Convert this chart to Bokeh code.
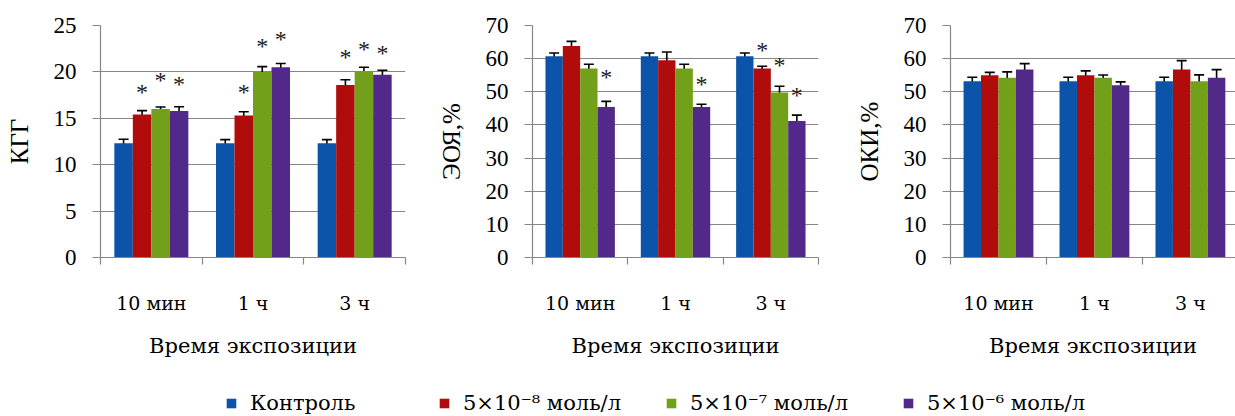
from bokeh.plotting import figure
from bokeh.models import (ColumnDataSource, Range1d, FixedTicker,
                          Whisker, TeeHead, Legend, LegendItem)
from bokeh.layouts import row, column
from bokeh.embed import file_html
from bokeh.resources import INLINE
from bokeh.core.properties import value

# ---------------- data ----------------
categories = ["10 мин", "1 ч", "3 ч"]
series = ["Контроль", "5×10⁻⁸ моль/л", "5×10⁻⁷ моль/л", "5×10⁻⁶ моль/л"]
colors = ["#0b54aa", "#b00c0c", "#72a01a", "#52298a"]

# KГГ
kgg_control = [12.3, 12.3, 12.3]
kgg_c8 = [15.4, 15.3, 18.6]
kgg_c7 = [16.0, 20.0, 20.1]
kgg_c6 = [15.8, 20.5, 19.7]
kgg_err_control = [0.45, 0.4, 0.4]
kgg_err_c8 = [0.43, 0.4, 0.55]
kgg_err_c7 = [0.22, 0.57, 0.4]
kgg_err_c6 = [0.45, 0.4, 0.48]
kgg_star_control = [None, None, None]
kgg_star_c8 = [18.0, 18.0, 21.8]
kgg_star_c7 = [19.3, 23.0, 22.7]
kgg_star_c6 = [18.9, 23.8, 22.3]

# ЭОЯ, %
eoya_control = [60.7, 60.7, 60.7]
eoya_c8 = [63.8, 59.5, 57.0]
eoya_c7 = [57.0, 57.0, 49.8]
eoya_c6 = [45.4, 45.4, 41.2]
eoya_err_control = [1.0, 1.0, 1.0]
eoya_err_c8 = [1.4, 2.5, 0.7]
eoya_err_c7 = [1.3, 1.3, 1.85]
eoya_err_c6 = [1.7, 0.85, 1.75]
eoya_star_control = [None, None, None]
eoya_star_c8 = [None, None, 63.2]
eoya_star_c7 = [None, None, 58.6]
eoya_star_c6 = [55.0, 53.0, 49.6]

# ОКИ, %
oki_control = [53.2, 53.2, 53.2]
oki_c8 = [55.0, 55.0, 56.7]
oki_c7 = [54.2, 54.2, 53.2]
oki_c6 = [56.7, 52.0, 54.2]
oki_err_control = [1.2, 1.2, 1.2]
oki_err_c8 = [0.85, 1.3, 2.7]
oki_err_c7 = [1.8, 0.85, 1.9]
oki_err_c6 = [1.8, 1.0, 2.5]

y_ticks_kgg = [0, 5, 10, 15, 20, 25]
y_ticks_pct = [0, 10, 20, 30, 40, 50, 60, 70]

# ---------------- styling ----------------
FONT = "Liberation Serif"
FONT2 = "DejaVu Serif"
GRID = "#868686"
BAR_W = 0.182


def bar_x(s):
    return [i + 0.5 + (s - 1.5) * BAR_W for i in range(len(categories))]


def make_panel(vals, errs, stars, ylabel, yticks, width, height, bl, br, bt, bb, xmax):
    p = figure(width=width, height=height, x_range=Range1d(0, xmax),
               y_range=Range1d(yticks[0], yticks[-1]),
               output_backend="svg", toolbar_location=None,
               min_border_left=bl, min_border_right=br,
               min_border_top=bt, min_border_bottom=bb)
    p.title.visible = False
    p.outline_line_color = None
    p.background_fill_color = "white"
    p.xgrid.visible = False
    p.ygrid.grid_line_color = GRID
    p.ygrid.grid_line_width = 1
    p.ygrid.ticker = FixedTicker(ticks=yticks)

    for s, (v, e) in enumerate(zip(vals, errs)):
        xs = bar_x(s)
        src = ColumnDataSource(dict(x=xs, top=v,
                                    up=[a + b for a, b in zip(v, e)],
                                    lo=[a - b for a, b in zip(v, e)]))
        p.vbar(x="x", top="top", bottom=0, width=BAR_W, source=src,
               fill_color=colors[s], line_color=None)
        w = Whisker(base="x", upper="up", lower="lo", source=src,
                    line_color="black", line_width=1.6,
                    upper_head=TeeHead(size=10, line_color="black", line_width=1.6),
                    lower_head=TeeHead(size=10, line_color="black", line_width=1.6))
        p.add_layout(w)
        if stars is not None:
            st = stars[s]
            sx = [x for x, y in zip(xs, st) if y is not None]
            sy = [y for y in st if y is not None]
            if sx:
                p.text(x=sx, y=sy, text=["*"] * len(sx), text_align="center",
                       text_baseline="middle", text_font=value(FONT),
                       text_font_size="24px", text_color="#1a1a1a", y_offset=2)

    # y axis
    ya = p.yaxis[0]
    ya.ticker = FixedTicker(ticks=yticks)
    ya.axis_label = ylabel
    ya.axis_label_text_font = FONT
    ya.axis_label_text_font_style = "normal"
    ya.axis_label_text_font_size = "25px"
    ya.axis_label_text_color = "black"
    ya.axis_label_standoff = 18
    ya.major_label_text_font = FONT
    ya.major_label_text_font_size = "23px"
    ya.major_label_text_color = "black"
    ya.major_label_standoff = 16
    ya.major_tick_out = 8
    ya.major_tick_in = 0
    ya.minor_tick_line_color = None
    ya.axis_line_color = GRID
    ya.major_tick_line_color = GRID
    ya.axis_line_width = 1.2

    # x axis: category labels (major) + separators (minor ticks)
    xa = p.xaxis[0]
    xa.ticker = FixedTicker(ticks=[0.5, 1.5, 2.5], minor_ticks=[0, 1, 2, 3])
    xa.major_label_overrides = {0.5: categories[0], 1.5: categories[1], 2.5: categories[2]}
    xa.major_tick_line_color = None
    xa.major_tick_out = 0
    xa.major_tick_in = 0
    xa.minor_tick_line_color = GRID
    xa.minor_tick_line_width = 1.2
    xa.minor_tick_out = 7
    xa.minor_tick_in = 0
    xa.axis_line_color = GRID
    xa.axis_line_width = 1.2
    xa.major_label_text_font = FONT2
    xa.major_label_text_font_size = "19px"
    xa.major_label_text_color = "black"
    xa.major_label_standoff = 27
    xa.axis_label = "Время экспозиции"
    xa.axis_label_text_font = FONT2
    xa.axis_label_text_font_style = "normal"
    xa.axis_label_text_font_size = "21px"
    xa.axis_label_text_color = "black"
    xa.axis_label_standoff = 17
    return p


PH = 378
p1 = make_panel([kgg_control, kgg_c8, kgg_c7, kgg_c6],
                [kgg_err_control, kgg_err_c8, kgg_err_c7, kgg_err_c6],
                [kgg_star_control, kgg_star_c8, kgg_star_c7, kgg_star_c6],
                "КГГ", y_ticks_kgg, 420, PH, 100, 15, 25, PH - 257, 3)
p2 = make_panel([eoya_control, eoya_c8, eoya_c7, eoya_c6],
                [eoya_err_control, eoya_err_c8, eoya_err_c7, eoya_err_c6],
                [eoya_star_control, eoya_star_c8, eoya_star_c7, eoya_star_c6],
                "ЭОЯ,%", y_ticks_pct, 415, PH, 112, 17, 25, PH - 257, 3)
p3 = make_panel([oki_control, oki_c8, oki_c7, oki_c6],
                [oki_err_control, oki_err_c8, oki_err_c7, oki_err_c6],
                None,
                "ОКИ,%", y_ticks_pct, 400, PH, 115, 0, 23, PH - 259, 2.97)

# ---------------- legend ----------------
LH = 38
lf = figure(width=1235, height=LH, x_range=Range1d(0, 3), y_range=Range1d(0, 25),
            output_backend="svg", toolbar_location=None,
            min_border_left=0, min_border_right=0, min_border_top=0, min_border_bottom=0)
lf.title.visible = False
lf.axis.visible = False
lf.grid.visible = False
lf.outline_line_color = None
legend_x = [225, 438, 665, 902]
legend_vals = [kgg_control, kgg_c8, kgg_c7, kgg_c6]
for s, name in enumerate(series):
    # hidden proxy renderers: only their swatches are shown in the legend
    r = lf.vbar(x=bar_x(s), top=legend_vals[s], width=BAR_W,
                fill_color=colors[s], line_color=None, visible=False)
    leg = Legend(items=[LegendItem(label=name, renderers=[r])],
                 location=(legend_x[s], 1), orientation="horizontal",
                 glyph_width=12, glyph_height=12, label_standoff=13,
                 label_text_font=FONT2, label_text_font_size="21px",
                 label_text_color="black", padding=0, margin=0,
                 border_line_color=None, background_fill_alpha=0)
    lf.add_layout(leg, "center")

layout = column(row(p1, p2, p3), lf)
open("out.html", "w").write(file_html(layout, INLINE))
